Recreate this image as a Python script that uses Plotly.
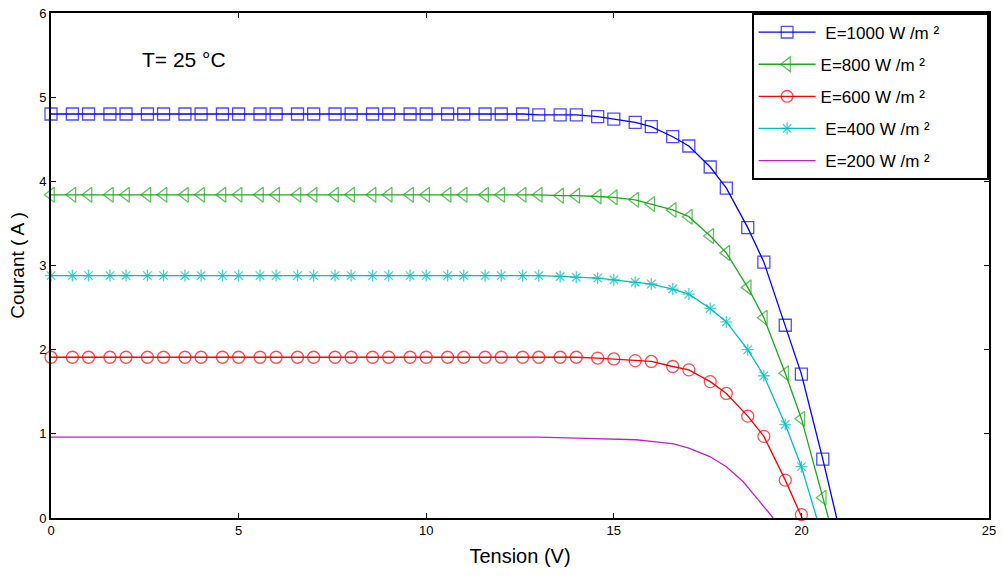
import plotly.graph_objects as go

# Shared voltage grid (V) where the marked curves have points
tension = [0, 0.57, 1, 1.57, 2, 2.57, 3, 3.57, 4, 4.57, 5, 5.57, 6, 6.57, 7, 7.57,
           8, 8.57, 9, 9.57, 10, 10.57, 11, 11.57, 12, 12.57, 13, 13.57, 14, 14.57,
           15, 15.57, 16, 16.57, 17, 17.57, 18, 18.57, 19, 19.57, 20, 20.57]

# Currents (A)
i_1000 = [4.80, 4.80, 4.80, 4.80, 4.80, 4.80, 4.80, 4.80, 4.80, 4.80, 4.80, 4.80, 4.80, 4.80,
          4.80, 4.80, 4.80, 4.80, 4.80, 4.80, 4.80, 4.80, 4.80, 4.80, 4.80, 4.80, 4.79, 4.79,
          4.79, 4.77, 4.74, 4.70, 4.65, 4.53, 4.42, 4.17, 3.92, 3.45, 3.04, 2.29, 1.71, 0.70]
i_800 = [3.84, 3.84, 3.84, 3.84, 3.84, 3.84, 3.84, 3.84, 3.84, 3.84, 3.84, 3.84, 3.84, 3.84,
         3.84, 3.84, 3.84, 3.84, 3.84, 3.84, 3.84, 3.84, 3.84, 3.84, 3.84, 3.84, 3.84, 3.83,
         3.83, 3.82, 3.81, 3.78, 3.73, 3.66, 3.58, 3.35, 3.15, 2.74, 2.38, 1.72, 1.18, 0.24]
i_600 = [1.91, 1.91, 1.91, 1.91, 1.91, 1.91, 1.91, 1.91, 1.91, 1.91, 1.91, 1.91, 1.91, 1.91,
         1.91, 1.91, 1.91, 1.91, 1.91, 1.91, 1.91, 1.91, 1.91, 1.91, 1.91, 1.91, 1.91, 1.91,
         1.91, 1.90, 1.89, 1.87, 1.86, 1.80, 1.76, 1.62, 1.48, 1.21, 0.97, 0.45, 0.04]
i_400 = [2.88, 2.88, 2.88, 2.88, 2.88, 2.88, 2.88, 2.88, 2.88, 2.88, 2.88, 2.88, 2.88, 2.88,
         2.88, 2.88, 2.88, 2.88, 2.88, 2.88, 2.88, 2.88, 2.88, 2.88, 2.88, 2.88, 2.88, 2.87,
         2.86, 2.85, 2.83, 2.80, 2.78, 2.72, 2.66, 2.49, 2.33, 2.00, 1.69, 1.11, 0.61]

# Open-circuit voltages (I = 0)
voc = {"1000": 20.94, "800": 20.72, "600": 20.02, "400": 20.41}

# 200 W/m² curve (plain line)
tension_200 = [0, 13, 14, 15, 15.6, 16, 16.6, 17, 17.56, 18, 18.45, 18.86, 19.25]
i_200 = [0.96, 0.96, 0.95, 0.94, 0.93, 0.91, 0.88, 0.83, 0.73, 0.61, 0.43, 0.21, 0.0]

NB = "\u00a0"
labels = [NB + "E=1000 W /m ²" + NB * 9, "E=800 W /m ²", "E=600 W /m ²",
          NB + "E=400 W /m ²", NB + "E=200 W /m ²"]
x_ticks = [0, 5, 10, 15, 20, 25]
y_ticks = [0, 1, 2, 3, 4, 5, 6]

fig = go.Figure()

series = [
    (i_1000, "1000", "#0000FF", "square-open", 12),
    (i_800, "800", "#1AAA1A", "triangle-left-open", 13),
    (i_600, "600", "#FF0000", "circle-open", 12),
    (i_400, "400", "#00BFBF", "asterisk-open", 10),
]
for k, (cur, key, col, sym, ms) in enumerate(series):
    n = len(cur)
    xs = tension[:n] + [voc[key]]
    ys = cur + [0]
    fig.add_trace(go.Scatter(
        x=xs, y=ys, mode="lines+markers", name=labels[k],
        line=dict(color=col, width=1.3),
        marker=dict(symbol=sym, size=[ms] * n + [0], color=col,
                    line=dict(color=col, width=1.3)),
        cliponaxis=False, legendgroup=key,
    ))

fig.add_trace(go.Scatter(
    x=tension_200, y=i_200, mode="lines", name=labels[4],
    line=dict(color="#C020C8", width=1.3), legendgroup="200",
))

fig.add_annotation(x=0.095, y=0.907, xref="paper", yref="paper", text="T= 25 °C",
                   showarrow=False, xanchor="left", yanchor="middle",
                   font=dict(family="Liberation Sans, Arial, sans-serif", size=21, color="black"))

axis_common = dict(showline=True, linecolor="black", linewidth=1.6, mirror="ticks",
                   ticks="inside", ticklen=5, tickcolor="black", tickwidth=1,
                   showgrid=False, zeroline=False,
                   tickfont=dict(family="Liberation Sans, Arial, sans-serif",
                                 size=13, color="black"))

fig.update_xaxes(range=[0, 25], tickvals=x_ticks,
                 title=dict(text="Tension (V)", standoff=12,
                            font=dict(family="Liberation Sans, Arial, sans-serif", size=20,
                                      color="black")),
                 **axis_common)
fig.update_yaxes(range=[0, 6], tickvals=y_ticks,
                 title=dict(text="Courant ( A )", standoff=10,
                            font=dict(family="Liberation Sans, Arial, sans-serif",
                                      size=19, color="black")),
                 **axis_common)

fig.update_layout(
    width=1003, height=576,
    margin=dict(l=51, r=14, t=13, b=58, autoexpand=False),
    plot_bgcolor="white", paper_bgcolor="white",
    showlegend=True,
    legend=dict(x=1, y=1, xanchor="right", yanchor="top",
                bordercolor="black", borderwidth=1.6, bgcolor="white",
                itemwidth=57, tracegroupgap=7,
                font=dict(family="Liberation Sans, Arial, sans-serif", size=17, color="black")),
)

fig.write_html("out.html", config={"displayModeBar": False},
               post_script="document.body.style.margin='0';document.body.style.padding='0';")
